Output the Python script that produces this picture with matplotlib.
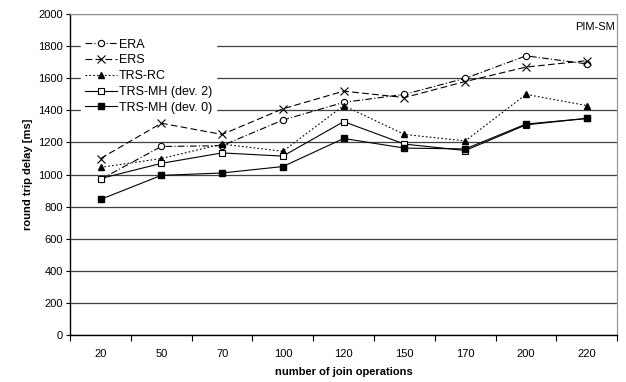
import matplotlib
matplotlib.use("Agg")
import matplotlib.pyplot as plt
import numpy as np

plt.rcParams['font.family'] = ['Liberation Sans', 'DejaVu Sans']

categories = ["20", "50", "70", "100", "120", "150", "170", "200", "220"]
era = [970, 1175, 1180, 1340, 1450, 1500, 1600, 1740, 1690]
ers = [1100, 1320, 1250, 1410, 1520, 1480, 1580, 1670, 1710]
trs_rc = [1045, 1100, 1190, 1145, 1430, 1250, 1210, 1500, 1430]
trs_mh2 = [975, 1070, 1135, 1115, 1330, 1190, 1150, 1310, 1350]
trs_mh0 = [845, 995, 1010, 1050, 1225, 1165, 1160, 1315, 1350]

fig = plt.figure(figsize=(6.26, 3.82), dpi=100)
ax = fig.add_axes([0.112, 0.123, 0.874, 0.840])
x = np.arange(len(categories))

ax.plot(x, era, color='black', lw=0.8, ls=(0, (6, 2, 1, 2)), marker='o', ms=4.5,
        mfc='white', mec='black', mew=0.8, label='ERA')
ax.plot(x, ers, color='black', lw=0.8, ls=(0, (6, 3)), marker='x', ms=5.5,
        mec='black', mew=0.8, label='ERS')
ax.plot(x, trs_rc, color='black', lw=0.8, ls=(0, (1.5, 2)), marker='^', ms=5,
        mfc='black', mec='black', label='TRS-RC')
ax.plot(x, trs_mh2, color='black', lw=0.8, ls='-', marker='s', ms=5,
        mfc='white', mec='black', mew=0.8, label='TRS-MH (dev. 2)')
ax.plot(x, trs_mh0, color='black', lw=0.8, ls='-', marker='s', ms=5,
        mfc='black', mec='black', label='TRS-MH (dev. 0)')

ax.set_xlim(-0.5, len(categories) - 0.5)
ax.set_ylim(0, 2000)
ax.set_yticks(np.arange(0, 2001, 200))
ax.set_xticks(x)
ax.set_xticklabels(categories)
ax.set_xticks(np.arange(-0.5, len(categories), 1), minor=True)
ax.tick_params(axis='x', which='major', length=0, pad=10, labelsize=8)
ax.tick_params(axis='x', which='minor', length=4, width=0.8, direction='out')
ax.tick_params(axis='y', length=3, width=0.8, direction='out', labelsize=8, pad=2)
ax.yaxis.grid(True, color='#404040', lw=0.9)
ax.set_axisbelow(True)

for s in ['top', 'right']:
    ax.spines[s].set_color('#909090')
    ax.spines[s].set_linewidth(0.8)
for s in ['left', 'bottom']:
    ax.spines[s].set_color('black')
    ax.spines[s].set_linewidth(1.0)

ax.set_xlabel('number of join operations', fontsize=8, fontweight='bold', labelpad=6)
ax.set_ylabel('round trip delay [ms]', fontsize=8, fontweight='bold', labelpad=4)

leg = ax.legend(loc='upper left', bbox_to_anchor=(0.02, 0.935), frameon=True, fontsize=9,
                handlelength=2.6, handletextpad=0.1, labelspacing=0.3, borderpad=0.3,
                borderaxespad=0.0)
leg.get_frame().set_edgecolor('white')
leg.get_frame().set_facecolor('white')
leg.get_frame().set_alpha(1.0)
leg.get_frame().set_boxstyle('square', pad=0.0)

ax.text(0.995, 0.975, 'PIM-SM', transform=ax.transAxes, ha='right', va='top', fontsize=8)

fig.savefig('out.png', dpi=100)
